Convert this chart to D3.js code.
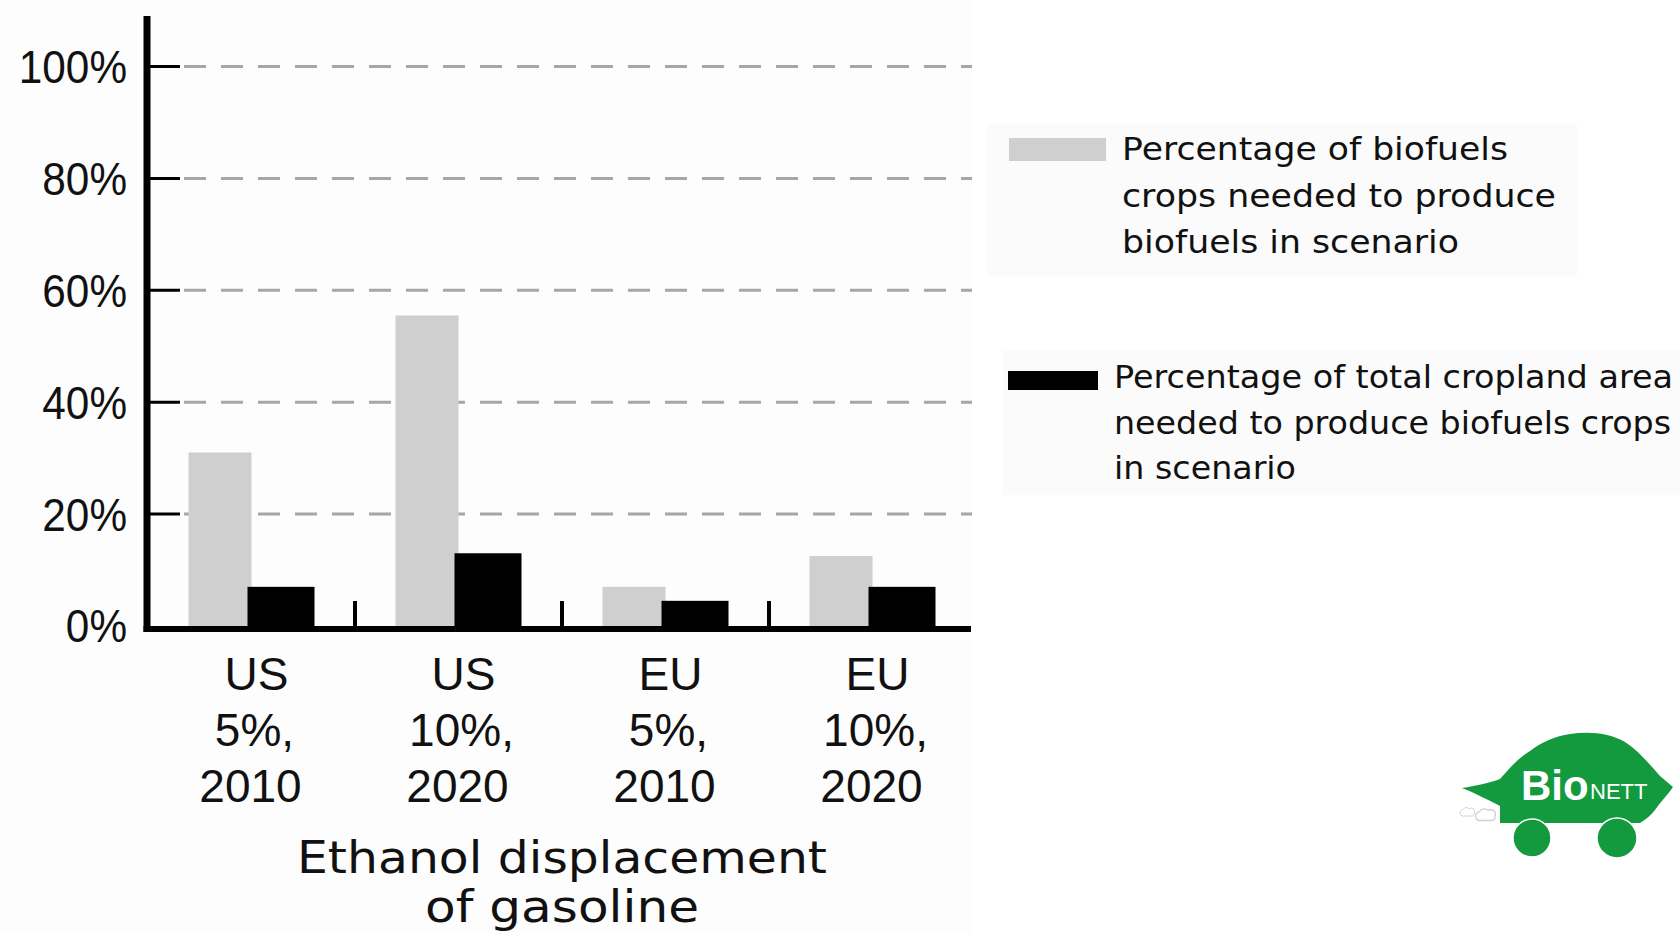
<!DOCTYPE html>
<html>
<head>
<meta charset="utf-8">
<script src="https://cdn.jsdelivr.net/npm/d3@7"></script>
<style>
  html, body { margin: 0; padding: 0; background: #ffffff; }
  svg { display: block; }
</style>
</head>
<body>
<svg id="chart" width="1680" height="933"></svg>
<script>
// Scenario categories (each label is drawn on three lines)
const categories = ["US 5% 2010", "US 10% 2020", "EU 5% 2010", "EU 10% 2020"];
const categoryLines = [
  ["US", "5%,", "2010"],
  ["US", "10%,", "2020"],
  ["EU", "5%,", "2010"],
  ["EU", "10%,", "2020"]
];

// Share of biofuel crops needed (%)
const cropShare = [31, 55.5, 7, 12.5];
// Share of total cropland area needed (%)
const croplandShare = [7, 13, 4.5, 7];

const yTicks = [0, 20, 40, 60, 80, 100];
const yTickLabels = ["0%", "20%", "40%", "60%", "80%", "100%"];

const xTitleLines = ["Ethanol displacement", "of gasoline"];

const legendCrop = ["Percentage of biofuels", "crops needed to produce", "biofuels in scenario"];
const legendCropland = ["Percentage of total cropland area", "needed to produce biofuels crops", "in scenario"];

const svg = d3.select("#chart");

// faint panel behind the plot
svg.append("rect").attr("x", 0).attr("y", 0).attr("width", 972).attr("height", 933).attr("fill", "#fdfdfd");

const x = d3.scaleBand().domain(categories).range([148, 976]).padding(0);
const y = d3.scaleLinear().domain([0, 100]).range([626, 66.5]);

const axisFont = "'Liberation Sans', Arial, sans-serif";
const textFont = "'DejaVu Sans', Verdana, sans-serif";

// dashed gridlines
svg.append("g").selectAll("line")
  .data(yTicks.filter(d => d > 0))
  .join("line")
  .attr("x1", 184).attr("x2", 972)
  .attr("y1", d => y(d)).attr("y2", d => y(d))
  .attr("stroke", "#a6a6a6").attr("stroke-width", 3)
  .attr("stroke-dasharray", "22 15");

// short black ticks at the axis
svg.append("g").selectAll("line")
  .data(yTicks.filter(d => d > 0))
  .join("line")
  .attr("x1", 147).attr("x2", 180)
  .attr("y1", d => y(d)).attr("y2", d => y(d))
  .attr("stroke", "#000").attr("stroke-width", 3);

// y tick labels
svg.append("g").selectAll("text")
  .data(yTicks)
  .join("text")
  .attr("x", 127)
  .attr("y", d => y(d) + 16.5)
  .attr("text-anchor", "end")
  .attr("font-family", axisFont)
  .attr("font-size", 47)
  .attr("fill", "#111")
  .attr("transform", `translate(${127 * (1 - 0.9)},0) scale(0.9,1)`)
  .text((d, i) => yTickLabels[i]);

// bars: light grey (crop share) then black (cropland share)
const barW1 = 63, barW2 = 67;
svg.append("g").selectAll("rect")
  .data(categories)
  .join("rect")
  .attr("x", d => x(d) + x.bandwidth() / 2 - barW1)
  .attr("width", barW1)
  .attr("y", (d, i) => y(cropShare[i]))
  .attr("height", (d, i) => y(0) - y(cropShare[i]))
  .attr("fill", "#cfcfcf");

svg.append("g").selectAll("rect")
  .data(categories)
  .join("rect")
  .attr("x", d => x(d) + x.bandwidth() / 2 - 4)
  .attr("width", barW2)
  .attr("y", (d, i) => y(croplandShare[i]))
  .attr("height", (d, i) => y(0) - y(croplandShare[i]))
  .attr("fill", "#000");

// separators between scenario groups
svg.append("g").selectAll("line")
  .data(categories.slice(1))
  .join("line")
  .attr("x1", d => x(d)).attr("x2", d => x(d))
  .attr("y1", 601).attr("y2", 628)
  .attr("stroke", "#000").attr("stroke-width", 4);

// axes lines
svg.append("line").attr("x1", 147).attr("x2", 147).attr("y1", 16).attr("y2", 632)
  .attr("stroke", "#000").attr("stroke-width", 7);
svg.append("line").attr("x1", 143.5).attr("x2", 971).attr("y1", 629).attr("y2", 629)
  .attr("stroke", "#000").attr("stroke-width", 6);

// category labels
const lineShift = [5, 3, -1];
const catG = svg.append("g").selectAll("text")
  .data(categories)
  .join("text")
  .attr("text-anchor", "middle")
  .attr("font-family", axisFont)
  .attr("font-size", 46)
  .attr("fill", "#111");
catG.selectAll("tspan")
  .data((d, i) => categoryLines[i].map(t => ({ t, cx: x(d) + x.bandwidth() / 2 })))
  .join("tspan")
  .attr("x", (d, j) => d.cx + lineShift[j])
  .attr("y", (d, j) => 690 + j * 56)
  .text(d => d.t);

// axis title
svg.append("g").selectAll("text")
  .data(xTitleLines)
  .join("text")
  .attr("x", 562)
  .attr("y", (d, i) => 873 + i * 49)
  .attr("text-anchor", "middle")
  .attr("font-family", textFont)
  .attr("font-size", 45)
  .attr("fill", "#111")
  .attr("textLength", (d, i) => [530, 274][i])
  .attr("lengthAdjust", "spacingAndGlyphs")
  .text(d => d);

// legend panels
svg.append("rect").attr("x", 986).attr("y", 124).attr("width", 591).attr("height", 152).attr("fill", "#fbfbfb");
svg.append("rect").attr("x", 1003).attr("y", 350).attr("width", 677).attr("height", 145).attr("fill", "#fbfbfb");

svg.append("rect").attr("x", 1009).attr("y", 138).attr("width", 97).attr("height", 23).attr("fill", "#cfcfcf");
svg.append("rect").attr("x", 1008).attr("y", 371).attr("width", 90).attr("height", 19).attr("fill", "#000");

const legendWidths1 = [386, 434, 337];
const legendWidths2 = [559, 557, 182];
svg.append("g").selectAll("text")
  .data(legendCrop)
  .join("text")
  .attr("x", 1122)
  .attr("y", (d, i) => 160 + i * 46.5)
  .attr("font-family", textFont)
  .attr("font-size", 32)
  .attr("fill", "#111")
  .attr("textLength", (d, i) => legendWidths1[i])
  .attr("lengthAdjust", "spacingAndGlyphs")
  .text(d => d);
svg.append("g").selectAll("text")
  .data(legendCropland)
  .join("text")
  .attr("x", 1114)
  .attr("y", (d, i) => 388 + i * 45.5)
  .attr("font-family", textFont)
  .attr("font-size", 32)
  .attr("fill", "#111")
  .attr("textLength", (d, i) => legendWidths2[i])
  .attr("lengthAdjust", "spacingAndGlyphs")
  .text(d => d);

// BioNETT badge
const logo = svg.append("g");
const green = "#139a3e";
logo.append("path")
  .attr("d", "M1462,788 C1475,786 1490,783 1500,779 C1508,770 1518,758 1530,751 C1542,742 1555,736 1570,734 " +
             "C1590,731 1610,733 1625,742 C1640,752 1650,765 1660,776 L1673,787 C1668,795 1660,802 1655,810 " +
             "C1650,816 1645,820 1640,823 L1500,823 L1500,806 C1488,800 1475,793 1462,788 Z")
  .attr("fill", green);
logo.selectAll("circle.wheel")
  .data([[1532, 838, 19], [1617, 838, 20]])
  .join("circle")
  .attr("class", "wheel")
  .attr("cx", d => d[0]).attr("cy", d => d[1]).attr("r", d => d[2])
  .attr("fill", green).attr("stroke", "#fff").attr("stroke-width", 1.5);
logo.selectAll("path.puff")
  .data([[1467, 812, 0.8], [1485, 815, 1.1]])
  .join("path")
  .attr("class", "puff")
  .attr("transform", d => `translate(${d[0]},${d[1]}) scale(${d[2]})`)
  .attr("d", "M-8,3 A4,4 0 0,1 -5,-3 A5,5 0 0,1 3,-4 A4,4 0 0,1 9,1 A3,3 0 0,1 6,5 L-6,5 A3,3 0 0,1 -8,3 Z")
  .attr("fill", "#fff").attr("stroke", "#cfcfcf").attr("stroke-width", 1.2);
logo.append("text")
  .attr("x", 1521).attr("y", 800)
  .attr("font-family", "'Liberation Sans', Arial, sans-serif")
  .attr("font-weight", "bold")
  .attr("font-size", 42)
  .attr("fill", "#fff")
  .text("Bio");
logo.append("text")
  .attr("x", 1590).attr("y", 799)
  .attr("font-family", "'Liberation Sans', Arial, sans-serif")
  .attr("font-size", 22)
  .attr("fill", "#fff")
  .text("NETT");
</script>
</body>
</html>
